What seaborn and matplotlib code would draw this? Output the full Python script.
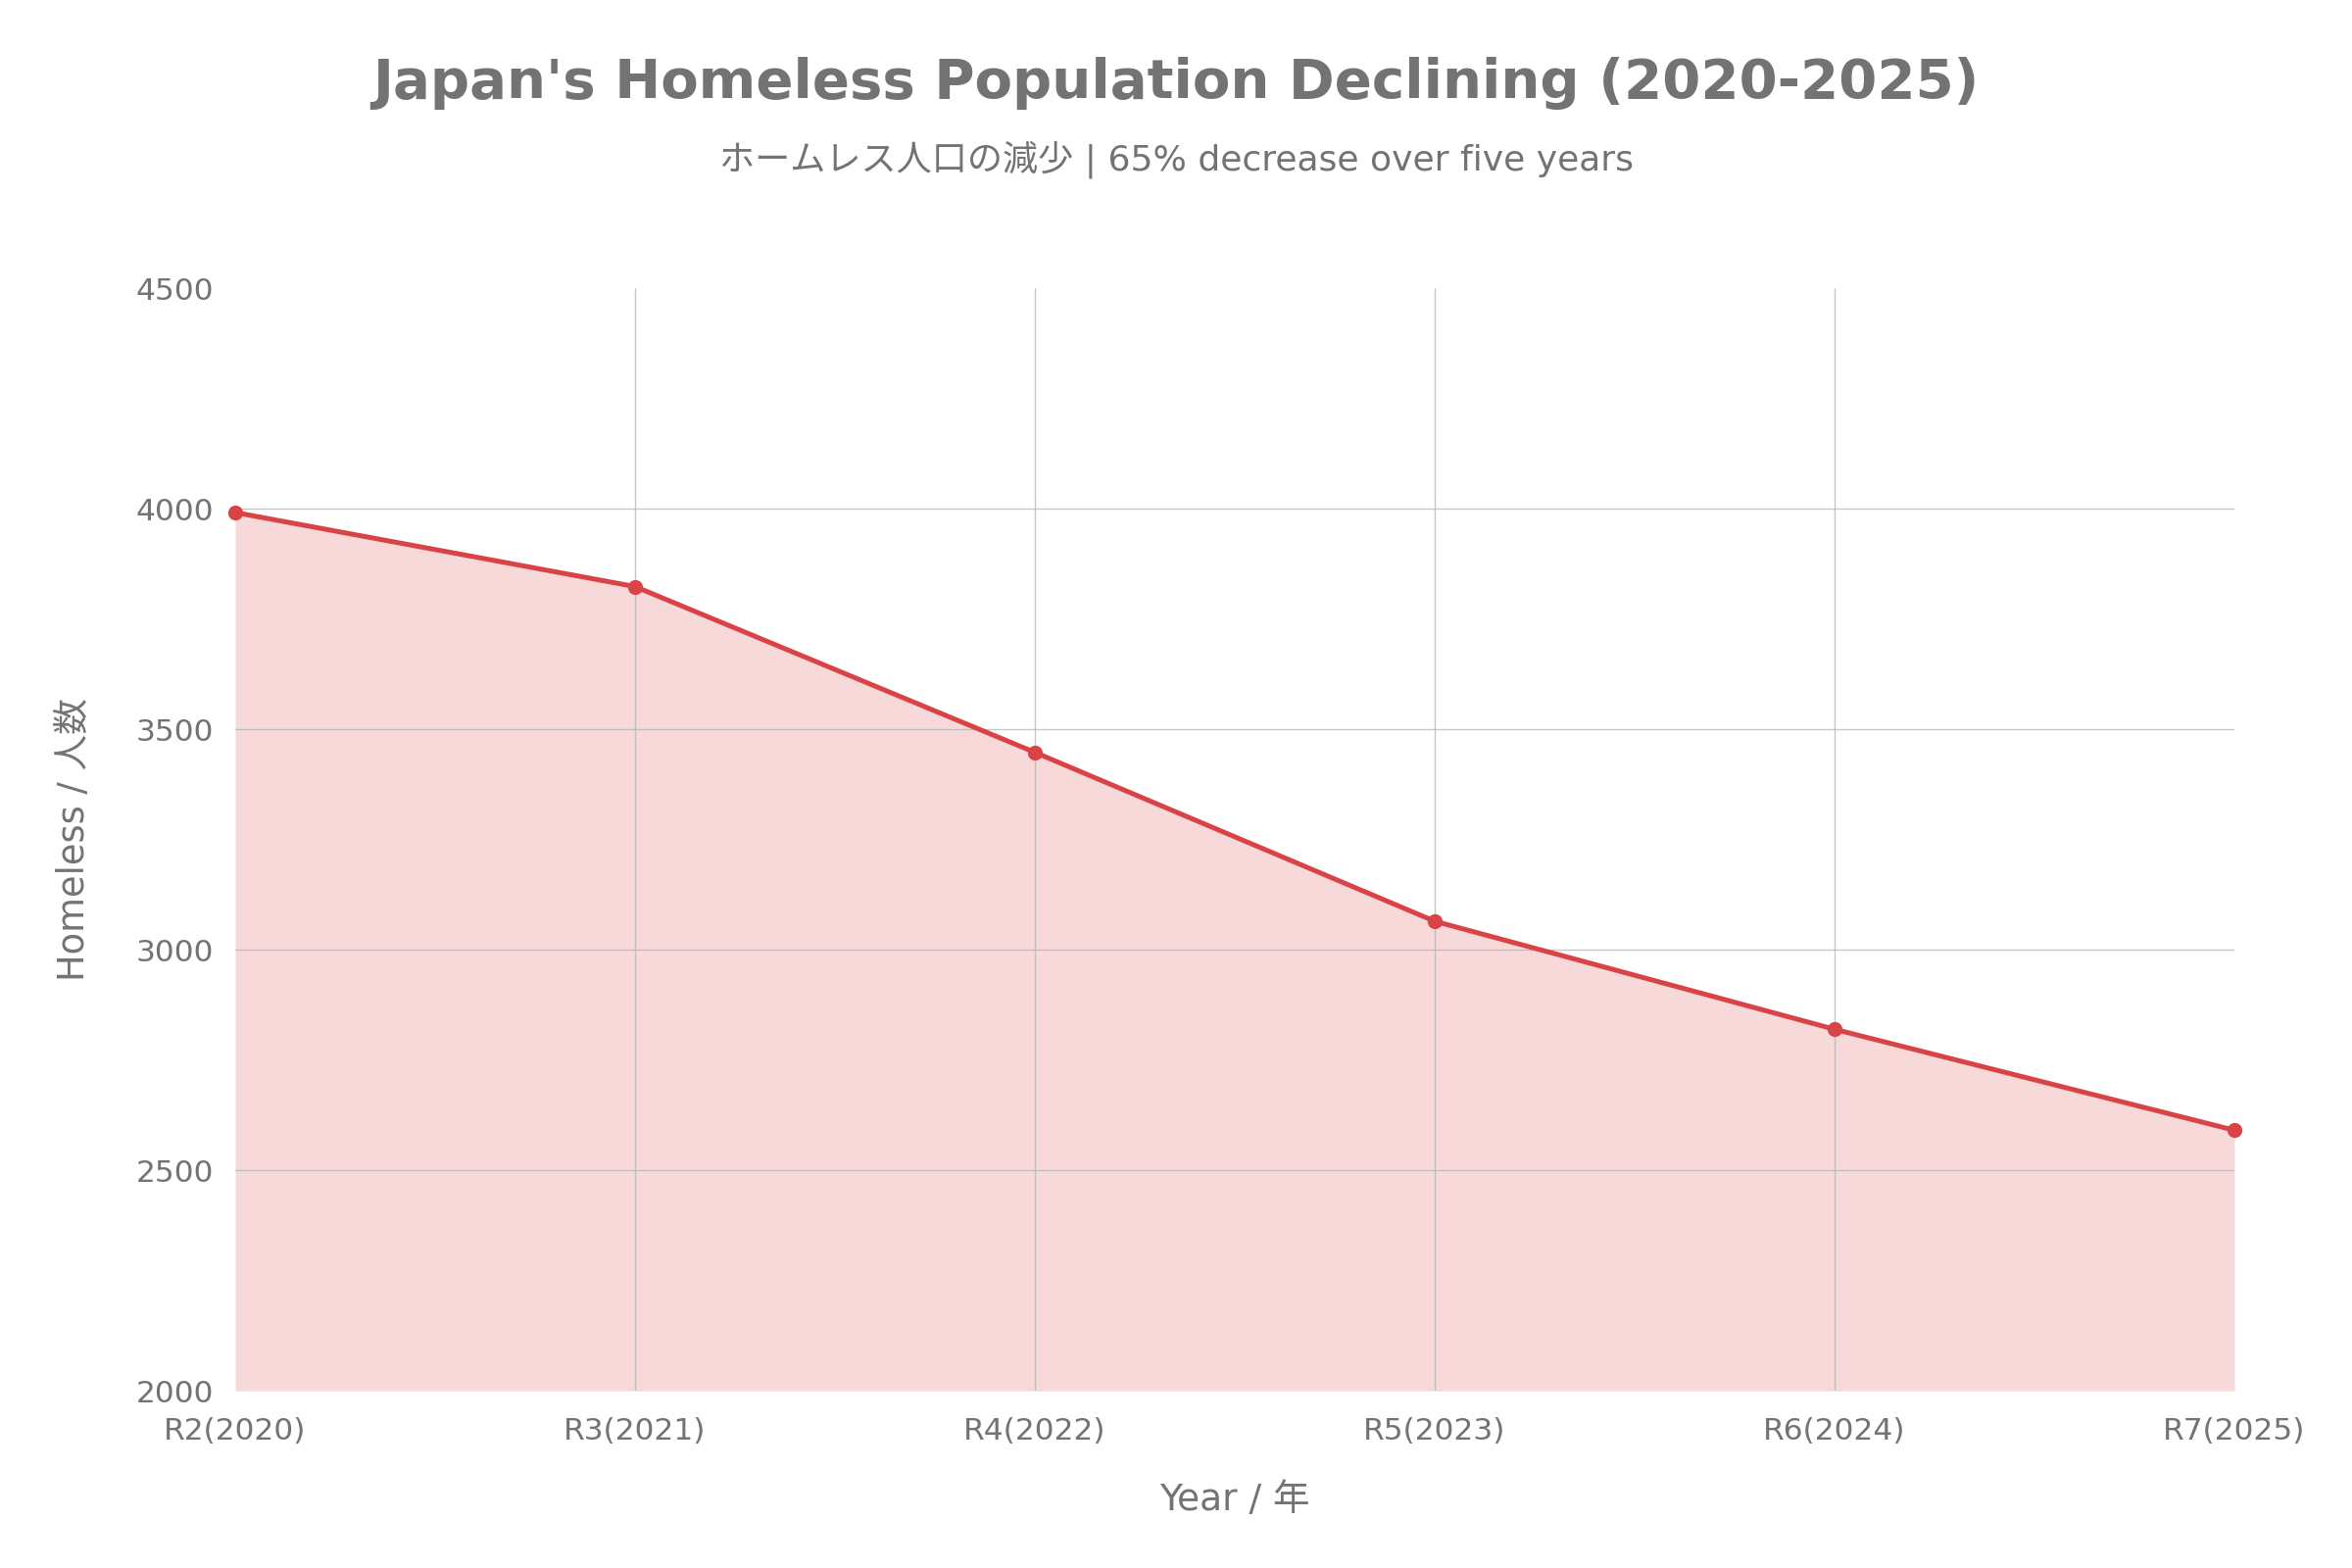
import numpy as np
import pandas as pd
import matplotlib
matplotlib.use("Agg")
import matplotlib.pyplot as plt
import seaborn as sns

# data (R2..R7)
year_labels = ["R2(2020)", "R3(2021)", "R4(2022)", "R5(2023)", "R6(2024)", "R7(2025)"]
homeless = [3992, 3824, 3448, 3065, 2820, 2591]
y_ticks = [2000, 2500, 3000, 3500, 4000, 4500]

line_color = "#d94346"
text_color = "#737373"

sns.set_theme(style="white")
plt.rcParams['font.family'] = ['DejaVu Sans', 'Noto Sans CJK JP']

df = pd.DataFrame({'year': year_labels, 'count': homeless})
df['pos'] = np.arange(len(df))

fig = plt.figure(figsize=(24, 16), dpi=100)
ax = fig.add_axes([0.1, 0.113, 0.85, 0.703])

ax.fill_between(df['pos'], df['count'], 2000, color=line_color, alpha=0.2, linewidth=0, zorder=1)
sns.lineplot(data=df, x='pos', y='count', ax=ax, color=line_color, linewidth=3.6,
             marker='o', markersize=11, markeredgewidth=0, zorder=3, clip_on=False)

ax.set_xlim(0, len(df) - 1)
ax.set_ylim(2000, 4500)
ax.set_xticks(df['pos'])
ax.set_xticklabels(year_labels)
ax.set_yticks(y_ticks)

ax.grid(True, color="#b4b4b4", linewidth=1.0, alpha=0.75, zorder=2)
ax.set_axisbelow(False)
# no grid on the frame edges
for gl in (ax.get_xgridlines()[0], ax.get_xgridlines()[-1],
           ax.get_ygridlines()[0], ax.get_ygridlines()[-1]):
    gl.set_visible(False)
for sp in ax.spines.values():
    sp.set_visible(False)

ax.tick_params(axis='both', colors="#cccccc", labelcolor=text_color, labelsize=22.5,
               length=8, width=1.5, direction='out', pad=8)
ax.tick_params(axis='x', pad=11)

ax.set_xlabel("Year / 年", fontsize=27, color=text_color, labelpad=28)
ax.set_ylabel("Homeless / 人数", fontsize=26.5, color=text_color, labelpad=32)

fig.text(0.5, 0.947, "Japan's Homeless Population Declining (2020-2025)",
         ha='center', va='center', fontsize=40.5, fontweight='bold', color=text_color)
fig.text(0.5, 0.898, "ホームレス人口の減少 | 65% decrease over five years",
         ha='center', va='center', fontsize=26, color=text_color)

fig.savefig("out.png", dpi=100, facecolor='white')
